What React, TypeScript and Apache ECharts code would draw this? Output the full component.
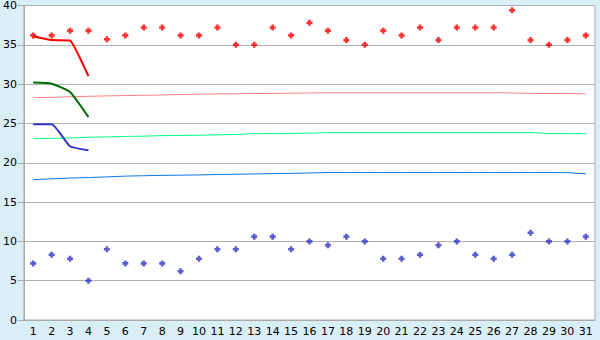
import React, { useEffect, useRef } from "react";
import * as echarts from "echarts";

const days = Array.from({ length: 31 }, (_, i) => String(i + 1));

const redPoints = [36.2, 36.2, 36.8, 36.8, 35.7, 36.2, 37.2, 37.2, 36.2, 36.2, 37.2, 35.0, 35.0, 37.2, 36.2, 37.8, 36.8, 35.6, 35.0, 36.8, 36.2, 37.2, 35.6, 37.2, 37.2, 37.2, 39.4, 35.6, 35.0, 35.6, 36.2];
const bluePoints = [7.2, 8.3, 7.8, 5.0, 9.0, 7.2, 7.2, 7.2, 6.2, 7.8, 9.0, 9.0, 10.6, 10.6, 9.0, 10.0, 9.5, 10.6, 10.0, 7.8, 7.8, 8.3, 9.5, 10.0, 8.3, 7.8, 8.3, 11.1, 10.0, 10.0, 10.6];

const redLine = [36.1, 35.6, 35.55, 31.0];
const greenLine = [30.2, 30.05, 29.0, 25.8];
const blueLine = [24.9, 24.9, 22.1, 21.6];

const pinkTrend = [28.28, 28.32, 28.4, 28.45, 28.5, 28.55, 28.58, 28.62, 28.68, 28.72, 28.76, 28.78, 28.8, 28.82, 28.84, 28.88, 28.9, 28.9, 28.9, 28.9, 28.9, 28.9, 28.9, 28.9, 28.9, 28.9, 28.88, 28.82, 28.8, 28.8, 28.78];
const greenTrend = [23.07, 23.1, 23.15, 23.25, 23.28, 23.35, 23.38, 23.45, 23.47, 23.5, 23.55, 23.6, 23.7, 23.72, 23.74, 23.76, 23.84, 23.84, 23.84, 23.84, 23.84, 23.84, 23.84, 23.84, 23.84, 23.84, 23.84, 23.84, 23.72, 23.71, 23.7];
const blueTrend = [17.85, 17.95, 18.05, 18.12, 18.2, 18.3, 18.35, 18.4, 18.42, 18.45, 18.5, 18.54, 18.58, 18.62, 18.65, 18.7, 18.76, 18.76, 18.76, 18.76, 18.76, 18.76, 18.76, 18.76, 18.76, 18.76, 18.76, 18.76, 18.76, 18.74, 18.6];

const pad = (arr: number[]) => days.map((_, i) => (i < arr.length ? arr[i] : null));

const cross = "path://M2,0 H5 V2 H7 V5 H5 V7 H2 V5 H0 V2 H2 Z";

export default function App() {
  const ref = useRef<HTMLDivElement>(null);
  useEffect(() => {
    const chart = echarts.init(ref.current!, null, { renderer: "svg" });
    const font = { fontFamily: "DejaVu Sans", fontSize: 11, color: "#000" };
    chart.setOption({
      animation: false,
      backgroundColor: "#daeef5",
      grid: { left: 20, right: 5, top: 5, bottom: 20, show: true, backgroundColor: "#fff", borderColor: "#aaa", borderWidth: 1 },
      xAxis: {
        type: "category",
        data: days,
        boundaryGap: true,
        axisLine: { lineStyle: { color: "#aaa" } },
        axisTick: { alignWithLabel: true, interval: 0, length: 6, lineStyle: { color: "#000" } },
        axisLabel: { ...font, interval: 0, margin: 6 },
        splitLine: { show: false },
      },
      yAxis: {
        type: "value",
        min: 0,
        max: 40,
        interval: 5,
        axisLine: { show: true, lineStyle: { color: "#aaa" } },
        axisTick: { show: true, length: 6, lineStyle: { color: "#aaa" } },
        axisLabel: { ...font, margin: 7 },
        splitLine: { lineStyle: { color: "#b0b0b0" } },
      },
      series: [
        { type: "line", data: pinkTrend, symbol: "none", lineStyle: { color: "#ff8080", width: 1 } },
        { type: "line", data: greenTrend, symbol: "none", lineStyle: { color: "#00ff80", width: 1 } },
        { type: "line", data: blueTrend, symbol: "none", lineStyle: { color: "#0a78e6", width: 1 } },
        { type: "line", data: pad(redLine), symbol: "none", smooth: 0.1, lineStyle: { color: "#ff0000", width: 2 } },
        { type: "line", data: pad(greenLine), symbol: "none", smooth: 0.15, lineStyle: { color: "#006e00", width: 2 } },
        { type: "line", data: pad(blueLine), symbol: "none", smooth: 0.15, lineStyle: { color: "#3535c8", width: 2 } },
        { type: "scatter", data: redPoints, symbol: cross, symbolSize: 6, itemStyle: { color: "#ff0000" } },
        { type: "scatter", data: bluePoints, symbol: cross, symbolSize: 6, itemStyle: { color: "#3535c8" } },
      ],
    });
    return () => chart.dispose();
  }, []);
  return <div ref={ref} style={{ position: "fixed", left: 0, top: 0, width: 600, height: 340 }} />;
}
